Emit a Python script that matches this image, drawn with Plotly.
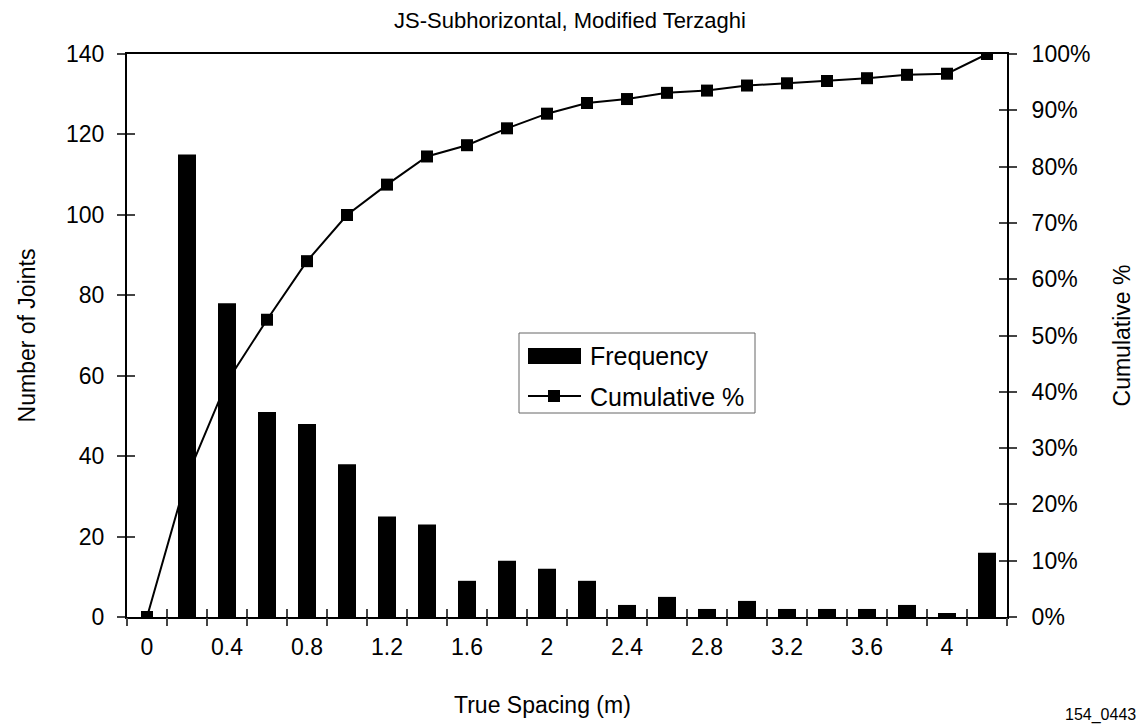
import plotly.graph_objects as go

categories = ["0", "0.2", "0.4", "0.6", "0.8", "1", "1.2", "1.4", "1.6", "1.8", "2",
              "2.2", "2.4", "2.6", "2.8", "3", "3.2", "3.4", "3.6", "3.8", "4", "More"]
frequency = [0, 115, 78, 51, 48, 38, 25, 23, 9, 14, 12, 9, 3, 5, 2, 4, 2, 2, 2, 3, 1, 16]
cumulative_pct = [0.0, 24.9, 41.8, 52.8, 63.2, 71.4, 76.8, 81.8, 83.8, 86.8, 89.4,
                  91.3, 92.0, 93.1, 93.5, 94.4, 94.8, 95.2, 95.7, 96.3, 96.5, 100.0]
shown_labels = categories[:-1:2]
left_ticks = list(range(0, 141, 20))
right_ticks = [v / 100 for v in range(0, 101, 10)]

FONT = "Arial, Liberation Sans, sans-serif"
n = len(categories)
bounds = [i - 0.5 for i in range(n + 1)]

# plot area in page pixels (page margin removed, figure fills the window)
PL, PR, PT, PB = 127, 1007, 54, 617
W, H = 1141, 727


def px(x):
    return (x - PL) / (PR - PL)


def py(y):
    return (PB - y) / (PB - PT)


fig = go.Figure()
fig.add_trace(go.Scatter(
    x=categories, y=[c / 100 for c in cumulative_pct], name="Cumulative %",
    xaxis="x", yaxis="y", mode="lines+markers",
    line=dict(color="black", width=2),
    marker=dict(symbol="square", size=12, color="black"),
    showlegend=False,
))
fig.add_trace(go.Bar(
    x=categories, y=frequency, name="Frequency",
    xaxis="x", yaxis="y2", marker=dict(color="black", line=dict(width=0)),
    width=0.45, showlegend=False,
))
# empty helper traces for crossing tick marks
fig.add_trace(go.Scatter(x=[], y=[], xaxis="x2", yaxis="y", showlegend=False))
fig.add_trace(go.Scatter(x=[], y=[], xaxis="x3", yaxis="y", showlegend=False))
fig.add_trace(go.Scatter(x=[], y=[], xaxis="x", yaxis="y3", showlegend=False))
fig.add_trace(go.Scatter(x=[], y=[], xaxis="x", yaxis="y4", showlegend=False))

tick_font = dict(family=FONT, size=23, color="black")
legend_font = dict(family=FONT, size=25, color="black")

shapes = [
    # legend box
    dict(type="rect", xref="paper", yref="paper", x0=px(519), x1=px(755),
         y0=py(413), y1=py(333), line=dict(color="#666", width=1),
         fillcolor="white", layer="above"),
    # frequency swatch
    dict(type="rect", xref="paper", yref="paper", x0=px(528), x1=px(581),
         y0=py(364), y1=py(348), line=dict(width=0), fillcolor="black", layer="above"),
    # cumulative swatch line + marker
    dict(type="line", xref="paper", yref="paper", x0=px(528), x1=px(581),
         y0=py(396), y1=py(396), line=dict(color="black", width=2), layer="above"),
    dict(type="rect", xref="paper", yref="paper", x0=px(548), x1=px(560),
         y0=py(402), y1=py(390), line=dict(width=0), fillcolor="black", layer="above"),
]

fig.update_layout(
    width=W, height=H,
    margin=dict(l=PL, r=W - PR, t=PT, b=H - PB, autoexpand=False),
    paper_bgcolor="white", plot_bgcolor="white",
    font=dict(family=FONT, color="black"),
    showlegend=False,
    bargap=0.55,
    xaxis=dict(
        type="category", categoryorder="array", categoryarray=categories,
        range=[-0.5, n - 0.5], tickmode="array", tickvals=shown_labels,
        ticktext=shown_labels, ticks="", tickfont=tick_font,
        ticklabelstandoff=8, automargin=False,
        showline=True, linecolor="black", linewidth=2, mirror=True,
        showgrid=False, zeroline=False,
    ),
    xaxis2=dict(
        overlaying="x", type="linear", range=[-0.5, n - 0.5],
        tickmode="array", tickvals=bounds, showticklabels=False,
        ticks="outside", ticklen=8, tickcolor="#444", tickwidth=1.5,
        showline=False, showgrid=False, zeroline=False, anchor="y", automargin=False,
    ),
    xaxis3=dict(
        overlaying="x", type="linear", range=[-0.5, n - 0.5],
        tickmode="array", tickvals=bounds, showticklabels=False,
        ticks="inside", ticklen=8, tickcolor="#444", tickwidth=1.5,
        showline=False, showgrid=False, zeroline=False, anchor="y", automargin=False,
    ),
    yaxis=dict(
        side="right", range=[0, 1], tickmode="array", tickvals=right_ticks,
        tickformat=".0%", ticks="outside", ticklen=8, tickcolor="#444",
        tickwidth=1.5, tickfont=tick_font, ticklabelstandoff=10, automargin=False,
        showline=True, linecolor="black", linewidth=2,
        showgrid=False, zeroline=False,
        title=dict(text="Cumulative %", font=dict(family=FONT, size=23), standoff=24),
    ),
    yaxis2=dict(
        overlaying="y", side="left", range=[0, 140], tickmode="array",
        tickvals=left_ticks, ticks="outside", ticklen=8, tickcolor="#444",
        tickwidth=1.5, tickfont=tick_font, ticklabelstandoff=8, automargin=False,
        showline=True, linecolor="black", linewidth=2,
        showgrid=False, zeroline=False,
        title=dict(text="Number of Joints", font=dict(family=FONT, size=23), standoff=24),
    ),
    yaxis3=dict(
        overlaying="y", side="left", range=[0, 140], tickmode="array",
        tickvals=left_ticks, ticks="inside", ticklen=8, tickcolor="#444",
        tickwidth=1.5, showticklabels=False, showline=False, automargin=False,
        showgrid=False, zeroline=False,
    ),
    yaxis4=dict(
        overlaying="y", side="right", range=[0, 1], tickmode="array",
        tickvals=right_ticks, ticks="inside", ticklen=8, tickcolor="#444",
        tickwidth=1.5, showticklabels=False, showline=False, automargin=False,
        showgrid=False, zeroline=False,
    ),
    shapes=shapes,
    annotations=[
        dict(text="JS-Subhorizontal, Modified Terzaghi", xref="paper", yref="paper",
             x=px(570), y=py(20), xanchor="center", yanchor="middle",
             showarrow=False, font=dict(family=FONT, size=22, color="black")),
        dict(text="True Spacing (m)", xref="paper", yref="paper",
             x=px(542), y=py(705), xanchor="center", yanchor="middle",
             showarrow=False, font=dict(family=FONT, size=23, color="black")),
        dict(text="154_0443", xref="paper", yref="paper",
             x=px(1138), y=py(726), xanchor="right", yanchor="bottom",
             showarrow=False, font=dict(family=FONT, size=16, color="black")),
        dict(text="Frequency", xref="paper", yref="paper",
             x=px(588), y=py(356), xanchor="left", yanchor="middle",
             showarrow=False, font=legend_font),
        dict(text="Cumulative %", xref="paper", yref="paper",
             x=px(588), y=py(397), xanchor="left", yanchor="middle",
             showarrow=False, font=legend_font),
    ],
)

fig.write_html(
    "out.html",
    config={"displayModeBar": False},
    post_script="document.body.style.margin='0';document.body.style.overflow='hidden';",
)
